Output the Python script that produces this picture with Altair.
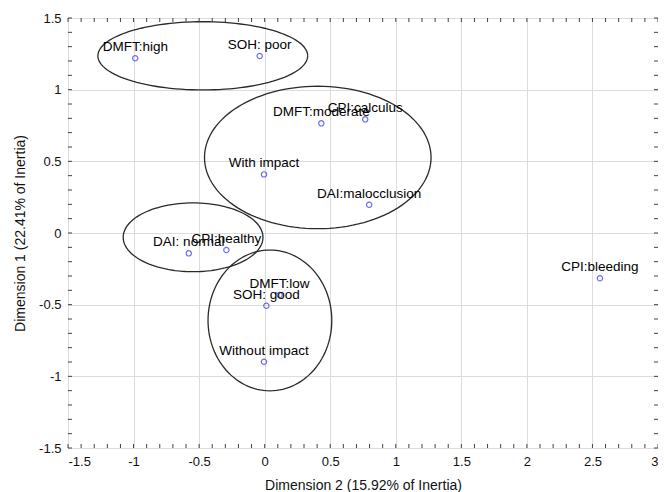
import altair as alt
import pandas as pd
import numpy as np

# ---- data ----
labels = ["DMFT:high", "SOH: poor", "DMFT:moderate", "CPI:calculus", "With impact",
          "DAI:malocclusion", "DAI: normal", "CPI:healthy", "DMFT:low", "SOH: good",
          "Without impact", "CPI:bleeding"]
dim2 = [-0.987, -0.038, 0.432, 0.767, -0.005, 0.797, -0.579, -0.292, 0.114, 0.013, -0.005, 2.557]
dim1 = [1.219, 1.235, 0.765, 0.793, 0.409, 0.197, -0.142, -0.119, -0.433, -0.508, -0.898, -0.316]

# ellipses (groupings) : centre and semi-axes in data units
ell_cx = [-0.472, 0.405, -0.546, 0.040]
ell_cy = [1.236, 0.527, -0.030, -0.610]
ell_rx = [0.800, 0.864, 0.533, 0.472]
ell_ry = [0.238, 0.497, 0.240, 0.491]

x_ticks = [-1.5, -1, -0.5, 0, 0.5, 1, 1.5, 2, 2.5, 3]
y_ticks = [-1.5, -1, -0.5, 0, 0.5, 1, 1.5]
x_minor = [round(v, 1) for v in np.arange(-1.5, 3.0001, 0.1)]
y_minor = [round(v, 1) for v in np.arange(-1.5, 1.5001, 0.1)]

W, H = 590, 430
FONT = "Liberation Sans"

pts = pd.DataFrame({"label": labels, "x": dim2, "y": dim1})

rows = []
n = 120
for i in range(len(ell_cx)):
    for k in range(n + 1):
        t = 2 * np.pi * k / n
        rows.append({"id": i, "k": k,
                     "x": ell_cx[i] + ell_rx[i] * np.cos(t),
                     "y": ell_cy[i] + ell_ry[i] * np.sin(t)})
ell = pd.DataFrame(rows)

xs = alt.Scale(domain=[-1.5, 3], nice=False, zero=False)
ys = alt.Scale(domain=[-1.5, 1.5], nice=False, zero=False)

xaxis = alt.Axis(values=x_ticks, title="Dimension 2 (15.92% of Inertia)",
                 labelExpr="'' + datum.value", grid=True, gridColor="#dcdcdc",
                 gridWidth=1, domain=False, ticks=False, labelPadding=7,
                 labelFontSize=13, labelFont=FONT, labelColor="#111",
                 titleFont=FONT, titleFontSize=14, titleFontWeight="normal",
                 titleColor="#111", titlePadding=10)
yaxis = alt.Axis(values=y_ticks, title="Dimension 1 (22.41% of Inertia)",
                 labelExpr="'' + datum.value", grid=True, gridColor="#dcdcdc",
                 gridWidth=1, domain=False, ticks=False, labelPadding=7,
                 labelFontSize=13, labelFont=FONT, labelColor="#111",
                 titleFont=FONT, titleFontSize=14, titleFontWeight="normal",
                 titleColor="#111", titlePadding=11)

base_pts = alt.Chart(pts)

grid = base_pts.mark_point(opacity=0).encode(
    x=alt.X("x:Q", scale=xs, axis=xaxis),
    y=alt.Y("y:Q", scale=ys, axis=yaxis),
)

ellipses = alt.Chart(ell).mark_line(color="#2a2a2a", strokeWidth=1.3).encode(
    x=alt.X("x:Q", scale=xs),
    y=alt.Y("y:Q", scale=ys),
    detail="id:N",
    order="k:Q",
)

points = base_pts.mark_point(shape="circle", size=28, filled=False,
                             color="#2f2ff0", strokeWidth=1.2).encode(
    x=alt.X("x:Q", scale=xs),
    y=alt.Y("y:Q", scale=ys),
)

texts = base_pts.mark_text(font=FONT, fontSize=13.5, color="#000",
                           align="center", baseline="alphabetic", dy=-7).encode(
    x=alt.X("x:Q", scale=xs),
    y=alt.Y("y:Q", scale=ys),
    text="label:N",
)

tick_col = "#404040"
xm = pd.DataFrame({"v": x_minor})
ym = pd.DataFrame({"v": y_minor})
bot_ticks = alt.Chart(xm).mark_rule(color=tick_col, strokeWidth=1).encode(
    x=alt.X("v:Q", scale=xs), y=alt.value(H), y2=alt.value(H - 4))
top_ticks = alt.Chart(xm).mark_rule(color=tick_col, strokeWidth=1).encode(
    x=alt.X("v:Q", scale=xs), y=alt.value(0), y2=alt.value(4))
left_ticks = alt.Chart(ym).mark_rule(color=tick_col, strokeWidth=1).encode(
    y=alt.Y("v:Q", scale=ys), x=alt.value(0), x2=alt.value(4))
right_ticks = alt.Chart(ym).mark_rule(color=tick_col, strokeWidth=1).encode(
    y=alt.Y("v:Q", scale=ys), x=alt.value(W), x2=alt.value(W - 4))

chart = alt.layer(grid, ellipses, points, texts,
                  bot_ticks, top_ticks, left_ticks, right_ticks).properties(
    width=W, height=H,
    autosize=alt.AutoSizeParams(type="none"),
    padding={"left": 60, "top": 10, "right": 0, "bottom": 44},
).configure_view(stroke="#404040", strokeWidth=1.5).configure(background="white")

chart.save("out.html", embed_options={"renderer": "svg", "actions": False})
